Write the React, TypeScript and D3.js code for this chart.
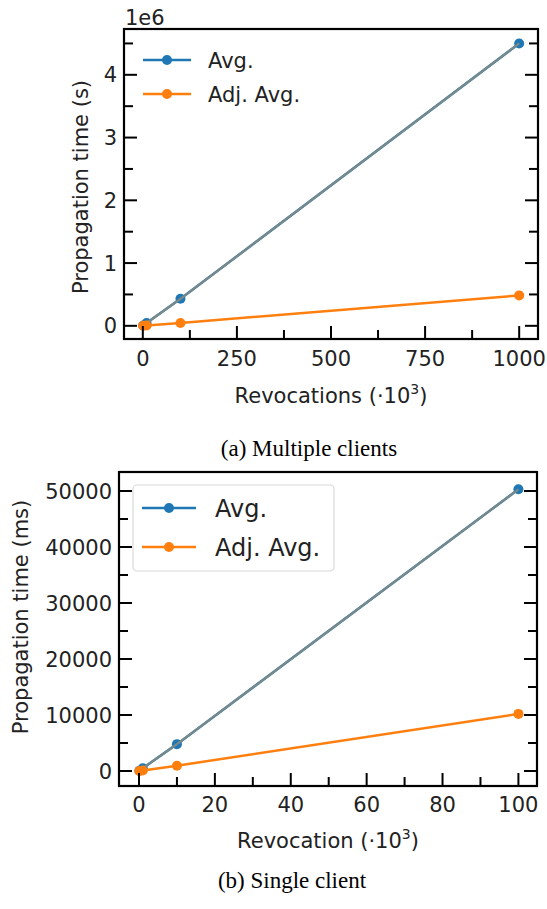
import * as d3 from "d3";

// (a) multiple clients
const revA = [1, 10, 100, 1000];
const avgA = [4500, 45000, 430000, 4500000];
const adjA = [500, 5000, 45000, 485000];
const xTicksA = [0, 250, 500, 750, 1000];
const xMinorA = [125, 375, 625, 875];
const yTicksA = [0, 1e6, 2e6, 3e6, 4e6];
const yMinorA = [0.5e6, 1.5e6, 2.5e6, 3.5e6, 4.5e6];

// (b) single client
const revB = [0.1, 1, 10, 100];
const avgB = [50, 500, 4800, 50300];
const adjB = [10, 100, 950, 10200];
const xTicksB = [0, 20, 40, 60, 80, 100];
const xMinorB = [10, 30, 50, 70, 90];
const yTicksB = [0, 10000, 20000, 30000, 40000, 50000];
const yMinorB = [5000, 15000, 25000, 35000, 45000];

const seriesNames = ["Avg.", "Adj. Avg."];
const BLUE = "#1f77b4";
const ORANGE = "#ff7f0e";
const GREY = "#7b8a88";
const FONT = "DejaVu Sans";

function Panel({
  left, top, right, bottom,
  xDomain, yDomain, xs, avg, adj,
  xTicks, xMinor, yTicks, yMinor, yFmt,
  xLabel, yLabel, yLabelX, yLabelY, xLabelY,
  tickLabelGap, xTickBaseline, legend,
}) {
  const x = d3.scaleLinear(xDomain, [left, right]);
  const y = d3.scaleLinear(yDomain, [bottom, top]);
  const line = d3.line<number>().x((d, i) => x(xs[i])).y((d) => y(d));
  const major = 13;
  const minor = 9;

  return (
    <g fontFamily={FONT} fill="#222">
      {/* series */}
      <path d={line(avg)} fill="none" stroke={BLUE} strokeWidth={2.5} />
      {avg.map((d, i) => (
        <circle key={"a" + i} cx={x(xs[i])} cy={y(d)} r={5} fill={BLUE} />
      ))}
      <path d={line(avg)} fill="none" stroke={GREY} strokeWidth={2.2} />
      <path d={line(adj)} fill="none" stroke={ORANGE} strokeWidth={2.5} />
      {adj.map((d, i) => (
        <circle key={"o" + i} cx={x(xs[i])} cy={y(d)} r={5} fill={ORANGE} />
      ))}

      {/* ticks, inward */}
      <g stroke="#000" strokeWidth={2}>
        {xTicks.map((t) => (
          <line key={"xt" + t} x1={x(t)} x2={x(t)} y1={bottom} y2={bottom - major} />
        ))}
        {xMinor.map((t) => (
          <line key={"xm" + t} x1={x(t)} x2={x(t)} y1={bottom} y2={bottom - minor} />
        ))}
        {yTicks.map((t) => (
          <g key={"yt" + t}>
            <line x1={left} x2={left + major} y1={y(t)} y2={y(t)} />
            <line x1={right} x2={right - major} y1={y(t)} y2={y(t)} />
          </g>
        ))}
        {yMinor.map((t) => (
          <g key={"ym" + t}>
            <line x1={left} x2={left + minor} y1={y(t)} y2={y(t)} />
            <line x1={right} x2={right - minor} y1={y(t)} y2={y(t)} />
          </g>
        ))}
      </g>
      <rect x={left} y={top} width={right - left} height={bottom - top}
        fill="none" stroke="#000" strokeWidth={2.2} />

      {/* tick labels */}
      <g fontSize={21}>
        {xTicks.map((t) => (
          <text key={"xl" + t} x={x(t)} y={xTickBaseline} textAnchor="middle">{t}</text>
        ))}
        {yTicks.map((t) => (
          <text key={"yl" + t} x={left - tickLabelGap} y={y(t)} dy="0.36em" textAnchor="end">
            {yFmt(t)}
          </text>
        ))}
      </g>

      {/* axis labels */}
      <text x={(left + right) / 2} y={xLabelY} textAnchor="middle" fontSize={21}>
        {xLabel}
        <tspan>{" (·10"}</tspan>
        <tspan dy={-9} fontSize={14}>3</tspan>
        <tspan dy={9}>)</tspan>
      </text>
      <text transform={`translate(${yLabelX},${yLabelY}) rotate(-90)`} textAnchor="middle" fontSize={21}>
        {yLabel}
      </text>

      {/* legend */}
      <g>
        {legend.box && (
          <rect x={legend.box[0]} y={legend.box[1]} width={legend.box[2]} height={legend.box[3]}
            rx={4} fill="#fff" fillOpacity={0.8} stroke="#d9d9d9" strokeWidth={1.2} />
        )}
        {seriesNames.map((name, i) => {
          const yy = legend.y0 + i * legend.dy;
          const c = i === 0 ? BLUE : ORANGE;
          return (
            <g key={name}>
              <line x1={legend.x0} x2={legend.x1} y1={yy} y2={yy} stroke={c} strokeWidth={2.5} />
              <circle cx={(legend.x0 + legend.x1) / 2} cy={yy} r={5} fill={c} />
              <text x={legend.tx} y={yy} dy="0.36em" fontSize={legend.fs}>{name}</text>
            </g>
          );
        })}
      </g>
    </g>
  );
}

export default function App() {
  return (
    <div style={{ position: "absolute", left: 0, top: 0 }}>
      <svg width={547} height={909} style={{ display: "block", background: "#fff" }}>
        <Panel
          left={124} top={29} right={538} bottom={339}
          xDomain={[-50, 1050]} yDomain={[-0.21e6, 4.73e6]}
          xs={revA} avg={avgA} adj={adjA}
          xTicks={xTicksA} xMinor={xMinorA} yTicks={yTicksA} yMinor={yMinorA}
          yFmt={(t) => String(t / 1e6)}
          xLabel="Revocations" yLabel="Propagation time (s)"
          yLabelX={88} yLabelY={187} xLabelY={403}
          tickLabelGap={7} xTickBaseline={366}
          legend={{ x0: 143, x1: 191, tx: 208, y0: 60, dy: 34, fs: 21 }}
        />
        <text x={125} y={25} fontFamily={FONT} fontSize={21} fill="#222">1e6</text>

        <Panel
          left={119} top={472} right={537} bottom={786}
          xDomain={[-5.27, 104.9]} yDomain={[-2676, 53390]}
          xs={revB} avg={avgB} adj={adjB}
          xTicks={xTicksB} xMinor={xMinorB} yTicks={yTicksB} yMinor={yMinorB}
          yFmt={(t) => String(t)}
          xLabel="Revocation" yLabel="Propagation time (ms)"
          yLabelX={28} yLabelY={617} xLabelY={848}
          tickLabelGap={7} xTickBaseline={812}
          legend={{ box: [133, 485, 201, 86], x0: 142, x1: 196, tx: 215, y0: 508, dy: 39, fs: 24 }}
        />

        <g fontFamily="Liberation Serif" fontSize={23} fill="#000" textAnchor="middle">
          <text x={309} y={456}>(a) Multiple clients</text>
          <text x={292} y={888}>(b) Single client</text>
        </g>
      </svg>
    </div>
  );
}
